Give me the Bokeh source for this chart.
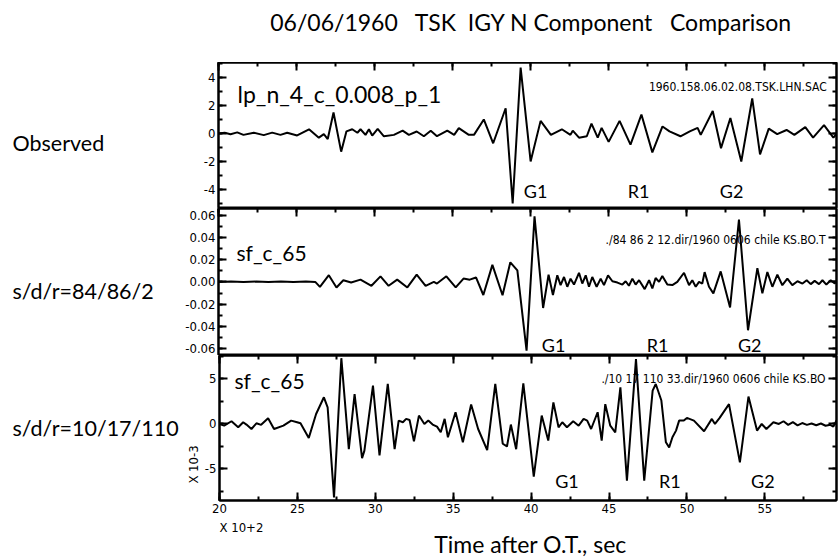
import math
from bokeh.plotting import figure
from bokeh.models import Label, LinearAxis, FixedTicker, Range1d
from bokeh.core.properties import value
from bokeh.layouts import column, row
from bokeh.embed import file_html
from bokeh.resources import INLINE

# ---------------- data ----------------
NB = "\u00a0"
title_text = "06/06/1960" + NB * 2 + " TSK" + NB + " IGY N Component" + NB * 2 + " Comparison"
x_label_text = "Time after O.T., sec"
x_scale_text = "X 10+2"
y_scale_text = "X 10-3"
row_labels = ["Observed", "s/d/r=84/86/2", "s/d/r=10/17/110"]
trace_names = ["lp_n_4_c_0.008_p_1", "sf_c_65", "sf_c_65"]
file_names = ["1960.158.06.02.08.TSK.LHN.SAC",
              "./84 86 2 12.dir/1960 0606 chile KS.BO.T",
              "./10 17 110 33.dir/1960 0606 chile KS.BO"]
phase_names = ["G1", "R1", "G2"]

x_ticks = [20, 25, 30, 35, 40, 45, 50, 55, 60]
x_tick_labels = ["20", "25", "30", "35", "40", "45", "50", "55", "60"]
x_minor_ticks = [20, 22.5, 25, 27.5, 30, 32.5, 35, 37.5, 40, 42.5, 45, 47.5, 50, 52.5, 55, 57.5, 60]

obs_ticks = [-4, -2, 0, 2, 4]
obs_tick_labels = ["-4", "-2", "0", "2", "4"]
obs_minor = [-5, -4, -3, -2, -1, 0, 1, 2, 3, 4, 5]
sim1_ticks = [-0.06, -0.04, -0.02, 0.0, 0.02, 0.04, 0.06]
sim1_tick_labels = ["-0.06", "-0.04", "-0.02", "0.00", "0.02", "0.04", "0.06"]
sim1_minor = [-0.06, -0.05, -0.04, -0.03, -0.02, -0.01, 0.0, 0.01, 0.02, 0.03, 0.04, 0.05, 0.06]
sim2_ticks = [-5, 0, 5]
sim2_tick_labels = ["-5", "0", "5"]
sim2_minor = [-7.5, -5, -2.5, 0, 2.5, 5, 7.5]

# time (x 10^2 s) and amplitude of the observed trace
obs_t = [20.0, 20.4, 20.77, 21.2, 21.6, 22.26, 22.9, 23.44, 23.97, 24.4, 25.04, 25.8, 26.43, 26.75,
         27.0, 27.37, 27.86, 28.2, 28.57, 28.9, 29.1, 29.42, 29.64, 29.85, 30.2, 30.6, 31.24, 31.8,
         32.2, 32.7, 33.16, 33.6, 34.0, 34.66, 35.1, 35.4, 36.04, 36.37, 37.0, 37.6, 38.4, 38.85,
         39.36, 40.0, 40.64, 41.3, 42.0, 42.55, 42.7, 43.1, 43.6, 43.9, 44.3, 44.55, 45.0, 45.7,
         46.4, 47.1, 47.8, 48.45, 48.9, 49.6, 50.2, 50.7, 50.9, 51.67, 52.2, 52.8, 53.5, 54.2,
         54.7, 55.26, 55.8, 56.4, 56.9, 57.6, 58.1, 58.8, 59.4, 59.7]
obs_v = [0.0, 0.05, -0.05, 0.08, -0.1, 0.05, -0.12, 0.06, -0.1, 0.05, -0.14, 0.3, -0.3, -0.05,
         -0.4, 1.5, -1.3, 0.15, 0.3, 0.05, 0.3, -0.1, 0.3, -0.15, 0.33, -0.2, -0.1, 0.2,
         -0.1, 0.14, -0.2, 0.2, -0.19, 0.2, -0.1, 0.38, -0.1, -0.1, 1.0, -0.7, 1.8, -5.0,
         4.7, -2.0, 0.9, -0.1, 0.3, -0.1, 0.2, -0.3, -0.2, 0.7, -0.3, 0.4, -0.6, 0.9,
         -0.8, 1.35, -1.35, 0.5, 0.15, -0.2, 0.15, 0.4, -0.1, 1.6, -1.05, 1.1, -2.0, 2.5,
         -1.5, 0.35, -0.05, 0.25, -0.1, 0.45, -0.3, 0.6, -0.3, 0.1]

# synthetic s/d/r = 84/86/2
sim1_t = [20.0, 20.8, 21.6, 22.4, 23.2, 24.0, 24.8, 25.6, 26.2, 26.5, 27.07, 27.56, 28.0, 28.5,
          29.1, 29.8, 30.38, 30.9, 31.45, 32.1, 32.7, 33.27, 33.8, 34.0, 34.6, 35.2, 35.7, 36.1,
          36.5, 36.97, 37.55, 38.2, 38.7, 39.15, 39.74, 40.25, 40.8, 41.15, 41.43, 41.71, 41.92,
          42.14, 42.35, 42.56, 42.78, 43.1, 43.31, 43.53, 43.74, 43.95, 44.23, 44.49, 44.7, 44.96,
          45.24, 45.56, 45.88, 46.09, 46.3, 46.52, 46.73, 46.95, 47.31, 47.59, 47.8, 48.01, 48.23,
          48.44, 48.76, 49.08, 49.4, 49.83, 50.15, 50.36, 50.58, 50.79, 51.0, 51.15, 51.43, 51.71,
          52.18, 52.78, 53.35, 53.93, 54.53, 54.85, 55.17, 55.49, 55.81, 56.13, 56.45, 56.77, 57.1,
          57.42, 57.69, 57.95, 58.2, 58.48, 58.7, 58.95, 59.23, 59.49, 59.7]
sim1_v = [0.0, 0.0003, -0.0002, 0.0003, -0.0001, 0.0003, -0.0002, 0.0003, 0.0, -0.0045, 0.006,
          -0.005, 0.0015, -0.0005, 0.002, -0.0035, 0.005, -0.0035, 0.002, -0.005, 0.0066, -0.0035,
          0.0, -0.0015, 0.005, -0.005, 0.003, 0.002, 0.004, -0.0118, 0.0153, -0.012, 0.0176, 0.0103,
          -0.0618, 0.059, -0.0235, 0.0065, -0.0118, 0.0059, -0.0029, 0.0044, -0.0044, 0.0029,
          -0.0024, 0.0082, -0.0015, 0.0059, -0.0044, 0.0044, -0.0044, 0.0029, -0.0029, 0.0059,
          0.0006, -0.0006, -0.0024, 0.0006, -0.0035, 0.0029, -0.0024, 0.0015, -0.0065, 0.0015,
          -0.0059, 0.0035, 0.0, 0.0053, -0.0024, -0.0029, 0.0, 0.0082, -0.0029, 0.0015, -0.0044,
          0.0, -0.0015, 0.0088, -0.0044, -0.0103, 0.0094, -0.023, 0.056, -0.0435, 0.0124, -0.0103,
          0.0088, -0.0044, 0.0065, -0.003, 0.0029, -0.0029, 0.0006, -0.0015, 0.0015, -0.002,
          0.0009, -0.002, 0.0015, -0.0024, 0.0015, -0.0015, 0.0029]

# synthetic s/d/r = 10/17/110 (x 10^-3)
sim2_t = [20.0, 20.3, 20.77, 21.2, 21.52, 21.73, 22.05, 22.37, 22.67, 23.12, 23.5, 24.1, 24.6,
          24.98, 25.2, 25.73, 26.2, 26.7, 26.94, 27.35, 27.82, 28.3, 28.67, 29.15, 29.3, 29.85,
          30.27, 30.8, 31.24, 31.5, 31.77, 31.98, 32.2, 32.48, 32.8, 33.15, 33.4, 33.68, 33.96,
          34.2, 34.45, 34.66, 35.15, 35.62, 36.15, 36.6, 37.18, 37.7, 38.18, 38.45, 38.7, 39.04,
          39.5, 40.17, 40.68, 41.1, 41.43, 41.76, 42.0, 42.3, 42.7, 43.05, 43.37, 43.6, 43.85,
          44.27, 44.53, 44.76, 45.08, 45.4, 45.73, 46.15, 46.73, 47.26, 47.8, 48.0, 48.36, 48.65,
          48.86, 49.07, 49.3, 49.5, 49.8, 50.0, 50.45, 51.1, 51.6, 51.8, 52.1, 52.7, 53.4, 53.95,
          54.5, 54.8, 55.1, 55.55, 55.9, 56.2, 56.5, 56.8, 57.1, 57.4, 57.7, 58.0, 58.3, 58.6,
          58.9, 59.2, 59.4, 59.6]
sim2_v = [0.0, -0.19, 0.3, -0.37, 0.19, -0.07, -0.56, 0.07, -0.1, 0.63, -0.56, -0.19, 0.37,
          0.19, 0.07, -1.55, 1.1, 2.96, 1.85, -8.15, 7.3, -2.8, 3.3, -3.8, -2.96, 4.26,
          -3.5, 4.44, -2.8, 0.37, 0.19, 0.56, 0.44, -1.93, 0.93, 0.0, 0.37, -0.07, -0.3,
          -0.93, 0.56, -1.48, 1.3, -2.04, 2.15, -0.56, -2.9, 4.44, -2.2, -2.5, -0.07, -2.8,
          4.5, -5.85, 0.93, -1.85, 2.4, -0.37, 0.19, -0.37, 0.3, -0.19, 0.56, 0.37, -0.56,
          1.3, -1.85, 2.2, -0.19, -0.93, 4.07, -6.3, 7.2, -6.3, 3.7, 4.44, 2.6, -2.04,
          -2.6, -1.48, -0.74, 0.37, 0.37, 0.67, 0.37, -0.81, 0.56, 0.0, 0.67, 2.2, -4.26, 3.04,
          -0.74, 0.0, -0.56, 0.19, 0.0, 0.3, -0.1, 0.2, -0.15, 0.1, -0.1, 0.05, -0.15, 0.05,
          -0.2, -0.1, -0.3, 0.4]

# ---------------- styling helpers ----------------
TICK_FONT = "'Liberation Sans Narrow', 'DejaVu Sans Condensed', 'Liberation Sans', sans-serif"
TEXT_FONT = "Lato"
X_RANGE = (20, 59.6)
W_TOTAL = 838
FRAME_LEFT = 218


def style_axis(ax, show_labels):
    ax.axis_line_width = 2
    ax.axis_line_color = "black"
    ax.major_tick_in = 8
    ax.major_tick_out = 0
    ax.minor_tick_in = 4
    ax.minor_tick_out = 0
    ax.major_tick_line_width = 2
    ax.minor_tick_line_width = 2
    ax.major_tick_line_color = "black"
    ax.minor_tick_line_color = "black"
    ax.major_label_standoff = 3
    if show_labels:
        ax.major_label_text_font = TICK_FONT
        ax.major_label_text_font_size = "13px"
        ax.major_label_text_color = "black"
    else:
        ax.major_label_text_font_size = "0px"
        ax.major_label_text_color = None
        ax.major_label_standoff = 0


def make_panel(label_w, height, bottom, y_range, yticks, ylabels, yminor):
    p = figure(width=W_TOTAL - label_w, height=height, x_range=Range1d(*X_RANGE),
               y_range=Range1d(*y_range), x_axis_type=None, y_axis_type=None,
               output_backend="svg", toolbar_location=None,
               min_border_left=FRAME_LEFT - label_w, min_border_right=2, min_border_top=0,
               min_border_bottom=bottom)
    p.outline_line_color = "black"
    p.outline_line_width = 2
    p.background_fill_color = "white"
    p.border_fill_color = "white"
    left = LinearAxis(ticker=FixedTicker(ticks=yticks, minor_ticks=yminor),
                      major_label_overrides=dict(zip(yticks, ylabels)))
    style_axis(left, True)
    p.add_layout(left, "left")
    right = LinearAxis(ticker=FixedTicker(ticks=yticks, minor_ticks=yminor))
    style_axis(right, False)
    p.add_layout(right, "right")
    top_ax = LinearAxis(ticker=FixedTicker(ticks=x_ticks, minor_ticks=x_minor_ticks))
    style_axis(top_ax, False)
    p.add_layout(top_ax, "above")
    return p


def text_fig(width, height, y_top, y_bottom):
    f = figure(width=width, height=height, x_range=Range1d(0, width),
               y_range=Range1d(y_bottom, y_top), x_axis_type=None, y_axis_type=None,
               output_backend="svg", toolbar_location=None, min_border=0)
    f.outline_line_color = None
    f.background_fill_color = "white"
    f.border_fill_color = "white"
    return f


def add_text(p, x, y, text, size, font=TEXT_FONT, align="left"):
    p.add_layout(Label(x=x, y=y, text=text, text_font=font, text_font_size=size,
                       text_align=align, text_baseline="middle", text_color="black"))


# ---------------- panels ----------------
LW = 2
L12 = 178   # width of the row-label strip beside panels 1 and 2
L3 = 201    # wider strip beside panel 3 (also holds the rotated scale note)

p1 = make_panel(L12, 146, 0, (-5.36, 5.07), obs_ticks, obs_tick_labels, obs_minor)
p1.line(obs_t, obs_v, line_color="black", line_width=LW)
p2 = make_panel(L12, 147, 0, (-0.0662, 0.066), sim1_ticks, sim1_tick_labels, sim1_minor)
p2.line(sim1_t, sim1_v, line_color="black", line_width=LW)
p3 = make_panel(L3, 165, 20, (-8.5, 7.6), sim2_ticks, sim2_tick_labels, sim2_minor)
p3.line(sim2_t, sim2_v, line_color="black", line_width=LW)

bottom_ax = LinearAxis(ticker=FixedTicker(ticks=x_ticks, minor_ticks=x_minor_ticks),
                       major_label_overrides=dict(zip(x_ticks, x_tick_labels)))
style_axis(bottom_ax, True)
p3.add_layout(bottom_ax, "below")

# trace names and file names
add_text(p1, 21.22, 2.8, trace_names[0], "23px")
add_text(p1, 58.97, 3.3, file_names[0], "12px", font=TICK_FONT, align="right")
add_text(p2, 21.15, 0.0265, trace_names[1], "21px")
add_text(p2, 58.9, 0.038, file_names[1], "12px", font=TICK_FONT, align="right")
add_text(p3, 20.96, 4.8, trace_names[2], "21px")
add_text(p3, 58.9, 5.0, file_names[2], "12px", font=TICK_FONT, align="right")

# phase labels
for x, nm in zip([40.32, 46.92, 52.88], phase_names):
    add_text(p1, x, -4.14, nm, "18px", align="center")
for x, nm in zip([41.47, 48.14, 54.04], phase_names):
    add_text(p2, x, -0.0572, nm, "18px", align="center")
for x, nm in zip([42.3, 48.9, 54.87], phase_names):
    add_text(p3, x, -6.3, nm, "18px", align="center")

# ---------------- outer text areas ----------------
top_fig = text_fig(W_TOTAL, 62, 0, 62)
top_fig.text(x=[531], y=[21], text=[title_text], text_font=value(TEXT_FONT),
             text_font_size="23px", text_align="center", text_baseline="middle", text_color="black")

lab1 = text_fig(L12, 146, 62, 208)
lab1.text(x=[12], y=[142], text=[row_labels[0]], text_font=value(TEXT_FONT),
          text_font_size="21.5px", text_align="left", text_baseline="middle", text_color="black")
lab2 = text_fig(L12, 147, 208, 355)
lab2.text(x=[12], y=[290], text=[row_labels[1]], text_font=value(TEXT_FONT),
          text_font_size="21.5px", text_align="left", text_baseline="middle", text_color="black")
lab3 = text_fig(L3, 165, 355, 520)
lab3.text(x=[12], y=[437], text=[row_labels[2]], text_font=value(TEXT_FONT),
          text_font_size="21.5px", text_align="left", text_baseline="middle", text_color="black")
lab3.text(x=[193], y=[479], text=[y_scale_text], text_font=value(TICK_FONT),
          text_font_size="13px", text_align="center", text_baseline="middle", text_color="black",
          angle=math.pi / 2)

bottom_fig = text_fig(W_TOTAL, 39, 520, 559)
bottom_fig.text(x=[219], y=[527], text=[x_scale_text], text_font=value(TICK_FONT),
                text_font_size="13px", text_align="left", text_baseline="middle", text_color="black")
bottom_fig.text(x=[530], y=[543], text=[x_label_text], text_font=value(TEXT_FONT),
                text_font_size="23px", text_align="center", text_baseline="middle", text_color="black")

layout = column(top_fig,
                row(lab1, p1, spacing=0),
                row(lab2, p2, spacing=0),
                row(lab3, p3, spacing=0),
                bottom_fig, spacing=0)
open("out.html", "w").write(file_html(layout, INLINE))
